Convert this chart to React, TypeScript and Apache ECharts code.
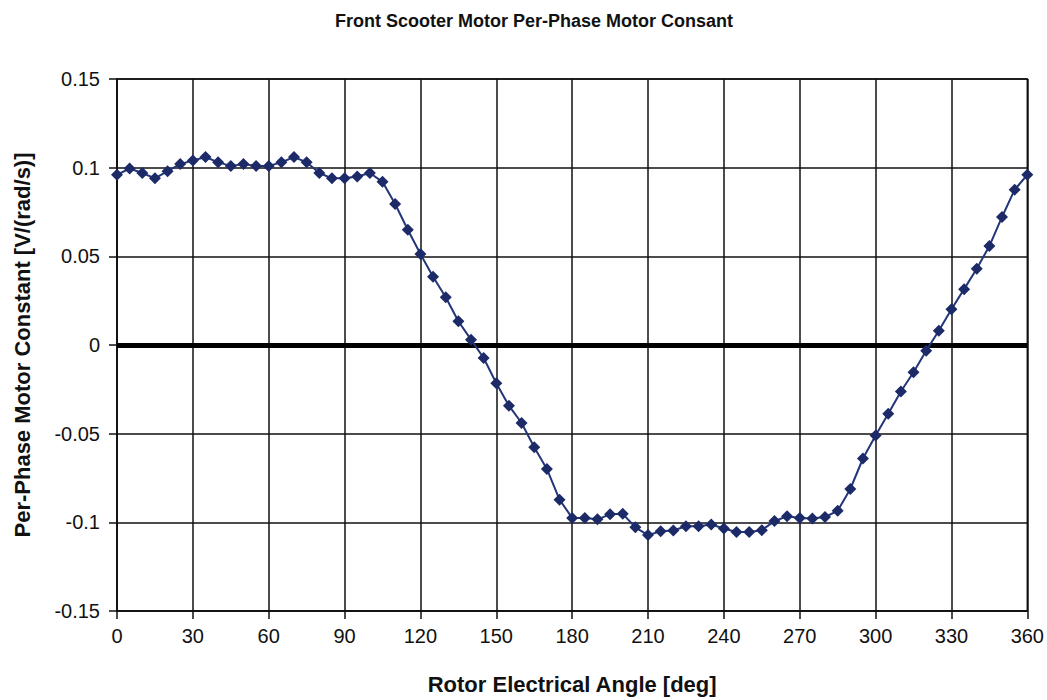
import React, { useEffect, useRef } from "react";
import * as echarts from "echarts";

const angles = [
  0, 5, 10, 15, 20, 25, 30, 35, 40, 45, 50, 55, 60, 65, 70, 75, 80, 85, 90, 95,
  100, 105, 110, 115, 120, 125, 130, 135, 140, 145, 150, 155, 160, 165, 170, 175,
  180, 185, 190, 195, 200, 205, 210, 215, 220, 225, 230, 235, 240, 245, 250, 255,
  260, 265, 270, 275, 280, 285, 290, 295, 300, 305, 310, 315, 320, 325, 330, 335,
  340, 345, 350, 355, 360,
];

const motorConstant = [
  0.096, 0.0995, 0.097, 0.094, 0.098, 0.102, 0.104, 0.106, 0.103, 0.101, 0.102,
  0.101, 0.101, 0.103, 0.106, 0.103, 0.097, 0.094, 0.094, 0.095, 0.097, 0.092,
  0.0795, 0.065, 0.0513, 0.0385, 0.0269, 0.0134, 0.003, -0.0073, -0.0216, -0.0342,
  -0.044, -0.0577, -0.0699, -0.0872, -0.0975, -0.0975, -0.0983, -0.0955, -0.0952,
  -0.1028, -0.1072, -0.105, -0.1046, -0.1022, -0.1022, -0.1012, -0.1035, -0.1054,
  -0.1054, -0.1044, -0.0993, -0.0966, -0.0975, -0.0978, -0.097, -0.0935, -0.0812,
  -0.064, -0.051, -0.0388, -0.0262, -0.0154, -0.0032, 0.008, 0.0202, 0.0315, 0.043,
  0.0558, 0.0722, 0.0876, 0.096,
];

const titleText = "Front Scooter Motor Per-Phase Motor Consant";
const xTitle = "Rotor Electrical Angle [deg]";
const yTitle = "Per-Phase Motor Constant [V/(rad/s)]";

const FONT = "'Liberation Sans', Arial, sans-serif";

export default function App() {
  const ref = useRef<HTMLDivElement>(null);
  useEffect(() => {
    document.body.style.margin = "0";
    if (!ref.current) return;
    const chart = echarts.init(ref.current, undefined, { renderer: "svg" });
    const data = angles.map((a, i) => [a, motorConstant[i]]);
    chart.setOption({
      animation: false,
      backgroundColor: "#ffffff",
      title: {
        text: titleText,
        left: 529,
        textAlign: "center",
        top: 7,
        textStyle: { fontFamily: FONT, fontSize: 18, fontWeight: "bold", color: "#111" },
      },
      grid: {
        left: 117,
        right: 17,
        top: 79,
        bottom: 89,
        show: true,
        borderColor: "#111",
        borderWidth: 1.5,
        backgroundColor: "transparent",
      },
      xAxis: {
        type: "value",
        min: 0,
        max: 360,
        interval: 30,
        name: xTitle,
        nameLocation: "middle",
        nameGap: 62,
        nameTextStyle: { fontFamily: FONT, fontSize: 22, fontWeight: "bold", color: "#111" },
        axisLine: { show: true, onZero: false, lineStyle: { color: "#111", width: 1.5 } },
        axisTick: { show: true, inside: false, length: 8, lineStyle: { color: "#111", width: 1.5 } },
        axisLabel: { fontFamily: FONT, fontSize: 20, color: "#111", margin: 15 },
        splitLine: { show: true, lineStyle: { color: "#111", width: 1.5 } },
      },
      yAxis: {
        type: "value",
        min: -0.15,
        max: 0.15,
        interval: 0.05,
        name: yTitle,
        nameLocation: "middle",
        nameGap: 84,
        nameTextStyle: { fontFamily: FONT, fontSize: 22, fontWeight: "bold", color: "#111" },
        axisLine: { show: true, onZero: false, lineStyle: { color: "#111", width: 1.5 } },
        axisTick: { show: true, inside: false, length: 8, lineStyle: { color: "#111", width: 1.5 } },
        axisLabel: {
          fontFamily: FONT,
          fontSize: 20,
          color: "#111",
          margin: 17,
          formatter: (v: number) => String(Math.round(v * 100) / 100),
        },
        splitLine: { show: true, lineStyle: { color: "#111", width: 1.5 } },
      },
      series: [
        {
          type: "line",
          data,
          symbol: "diamond",
          symbolSize: 12,
          lineStyle: { color: "#24357a", width: 2 },
          itemStyle: { color: "#1c2a68" },
          z: 5,
          markLine: {
            silent: true,
            symbol: ["none", "none"],
            label: { show: false },
            lineStyle: { color: "#000", width: 5, type: "solid" },
            data: [{ yAxis: 0 }],
            z: 3,
          },
        },
      ],
    });
    return () => chart.dispose();
  }, []);
  return <div ref={ref} style={{ width: 1047, height: 700 }} />;
}
